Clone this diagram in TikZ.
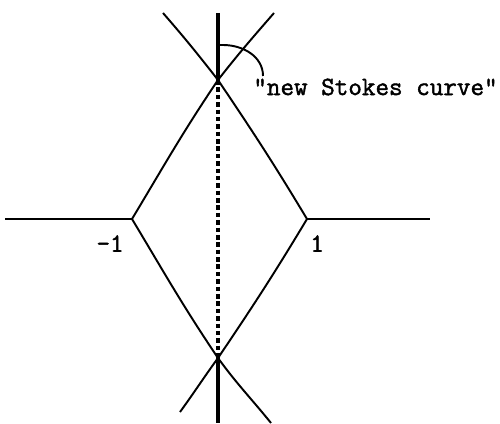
\documentclass[tikz,border=0pt]{standalone}
\usepackage{fontspec}
\newfontfamily\stokesfont{Latin Modern Mono}[FakeBold=1.6]
\usepackage{tikz}
\usetikzlibrary{positioning}

\begin{document}
\begin{tikzpicture}[
    x=0.02cm, y=0.02cm,
    curve/.style={line width=1.1pt, black},
    cut/.style={line width=2.2pt, black},
    dotcut/.style={line width=2.6pt, black, dash pattern=on 2.6pt off 1.6pt},
    lbl/.style={font=\fontsize{15}{17}\selectfont\stokesfont, inner sep=0pt},
  ]
  \useasboundingbox (0,0) rectangle (500,423);

  % Turning points and crossings
  \coordinate (tl) at (132,204);
  \coordinate (tr) at (307,204);
  \coordinate (ct) at (218,343);
  \coordinate (cb) at (218,65);
  \coordinate (top) at (218,410);
  \coordinate (bot) at (218,0);

  % Horizontal branches
  \draw[curve] (5,204) -- (tl);
  \draw[curve] (tr) -- (430,204);

  % Upper Stokes curves
  \draw[curve] (163,410) to[out=-49,in=128] (ct) to[out=-56,in=121] (tr);
  \draw[curve] (274,410) to[out=229,in=52] (ct) to[out=236,in=59] (tl);

  % Lower Stokes curves
  \draw[curve] (tl) to[out=-59,in=124] (cb) to[out=-54,in=129] (271,0);
  \draw[curve] (tr) to[out=239,in=56] (cb) to[out=234,in=54] (180,11);

  % Vertical line: cut and new Stokes curve
  \draw[cut] (top) -- (ct);
  \draw[dotcut] (ct) -- (cb);
  \draw[cut] (cb) -- (bot);

  % Labels
  \node[lbl, below left=0.32cm and 0.16cm of tl] (m1) {-1};
  \node[lbl, below right=0.32cm and 0.06cm of tr] (p1) {1};
  \node[lbl, anchor=west] (name) at (253,336) {"new Stokes curve"};

  % Pointer arc
  \coordinate (mark) at (223,378);
  \coordinate (tip) at (263,347);
  \draw[curve] (218,378) -- (mark);
  \draw[curve] (tip) to[out=90,in=0] (mark);

\end{tikzpicture}
\end{document}
